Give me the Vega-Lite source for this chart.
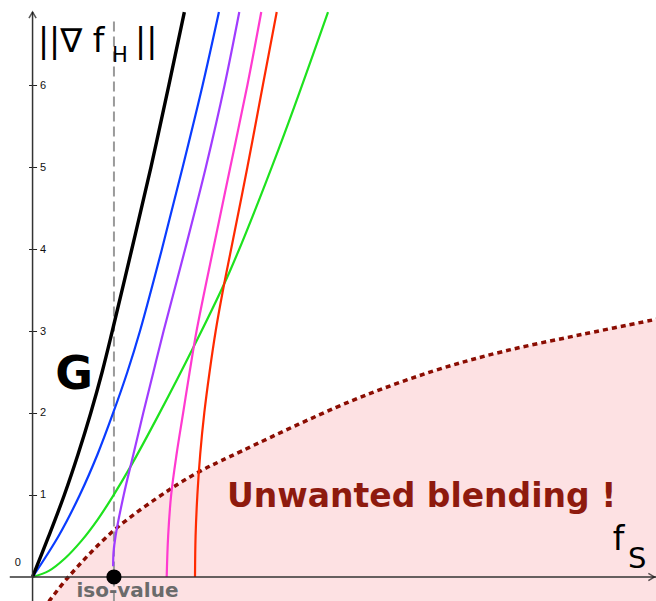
{
  "$schema": "https://vega.github.io/schema/vega-lite/v6.json",
  "width": 656,
  "height": 601,
  "padding": 0,
  "autosize": {"type": "none"},
  "background": "white",
  "config": {"view": {"stroke": null}, "axis": {"grid": false}},
  "datasets": {
    "boundary": [
      {"x": 0.2, "y": -0.3}, {"x": 0.44, "y": 0}, {"x": 0.99, "y": 0.56}, {"x": 1.69, "y": 1.07},
      {"x": 2.06, "y": 1.29}, {"x": 2.43, "y": 1.47}, {"x": 3.9, "y": 2.14}, {"x": 4.92, "y": 2.51},
      {"x": 5.78, "y": 2.75}, {"x": 6.76, "y": 2.96}, {"x": 7.7, "y": 3.15}
    ],
    "curves": [
      {"series": "black", "x": 0, "y": 0}, {"series": "black", "x": 0.2, "y": 0.5}, {"series": "black", "x": 0.39, "y": 1},
      {"series": "black", "x": 0.56, "y": 1.5}, {"series": "black", "x": 0.715, "y": 2}, {"series": "black", "x": 0.855, "y": 2.5},
      {"series": "black", "x": 0.98, "y": 3}, {"series": "black", "x": 1.22, "y": 4}, {"series": "black", "x": 1.455, "y": 5},
      {"series": "black", "x": 1.675, "y": 6}, {"series": "black", "x": 1.865, "y": 6.89},
      {"series": "blue", "x": 0, "y": 0}, {"series": "blue", "x": 0.32, "y": 0.5}, {"series": "blue", "x": 0.58, "y": 1},
      {"series": "blue", "x": 0.8, "y": 1.5}, {"series": "blue", "x": 0.99, "y": 2}, {"series": "blue", "x": 1.165, "y": 2.5},
      {"series": "blue", "x": 1.32, "y": 3}, {"series": "blue", "x": 1.59, "y": 4}, {"series": "blue", "x": 1.845, "y": 5},
      {"series": "blue", "x": 2.09, "y": 6}, {"series": "blue", "x": 2.29, "y": 6.89},
      {"series": "green", "x": 0, "y": 0}, {"series": "green", "x": 0.2, "y": 0.074}, {"series": "green", "x": 0.4, "y": 0.228},
      {"series": "green", "x": 0.6, "y": 0.44}, {"series": "green", "x": 0.8, "y": 0.7}, {"series": "green", "x": 0.99, "y": 0.99},
      {"series": "green", "x": 1.2, "y": 1.34}, {"series": "green", "x": 1.55, "y": 1.98}, {"series": "green", "x": 1.97, "y": 2.79},
      {"series": "green", "x": 2.42, "y": 3.72}, {"series": "green", "x": 3.02, "y": 5.21}, {"series": "green", "x": 3.63, "y": 6.89},
      {"series": "purple", "x": 0.99, "y": 0.13}, {"series": "purple", "x": 0.995, "y": 0.3}, {"series": "purple", "x": 1.02, "y": 0.5},
      {"series": "purple", "x": 1.12, "y": 1}, {"series": "purple", "x": 1.24, "y": 1.5}, {"series": "purple", "x": 1.36, "y": 2},
      {"series": "purple", "x": 1.485, "y": 2.5}, {"series": "purple", "x": 1.61, "y": 3}, {"series": "purple", "x": 1.875, "y": 4},
      {"series": "purple", "x": 2.13, "y": 5}, {"series": "purple", "x": 2.36, "y": 6}, {"series": "purple", "x": 2.54, "y": 6.89},
      {"series": "pink", "x": 1.648, "y": 0}, {"series": "pink", "x": 1.666, "y": 0.5}, {"series": "pink", "x": 1.703, "y": 1},
      {"series": "pink", "x": 1.77, "y": 1.5}, {"series": "pink", "x": 1.85, "y": 2}, {"series": "pink", "x": 1.93, "y": 2.5},
      {"series": "pink", "x": 2.015, "y": 3}, {"series": "pink", "x": 2.22, "y": 4}, {"series": "pink", "x": 2.43, "y": 5},
      {"series": "pink", "x": 2.64, "y": 6}, {"series": "pink", "x": 2.81, "y": 6.89},
      {"series": "red", "x": 1.996, "y": 0}, {"series": "red", "x": 2.003, "y": 0.5}, {"series": "red", "x": 2.025, "y": 1},
      {"series": "red", "x": 2.06, "y": 1.5}, {"series": "red", "x": 2.11, "y": 2}, {"series": "red", "x": 2.175, "y": 2.5},
      {"series": "red", "x": 2.25, "y": 3}, {"series": "red", "x": 2.34, "y": 3.5}, {"series": "red", "x": 2.44, "y": 4},
      {"series": "red", "x": 2.64, "y": 5}, {"series": "red", "x": 2.83, "y": 6}, {"series": "red", "x": 3.0, "y": 6.89}
    ]
  },
  "encoding": {
    "x": {"field": "x", "type": "quantitative", "scale": {"domain": [-0.4, 7.66], "nice": false, "zero": false}, "axis": null},
    "y": {"field": "y", "type": "quantitative", "scale": {"domain": [-0.293, 7.037], "nice": false, "zero": false}, "axis": null}
  },
  "layer": [
    {
      "data": {"name": "boundary"},
      "mark": {"type": "area", "color": "#fde1e3", "clip": true, "interpolate": "catmull-rom"},
      "encoding": {
        "x": {"field": "x", "type": "quantitative", "scale": {"domain": [-0.4, 7.66], "nice": false, "zero": false},
          "axis": {"orient": "top", "offset": -577, "values": [1, 2, 3, 4, 5, 6, 7], "domain": false, "tickSize": 4, "tickColor": "#222", "tickWidth": 1, "labelFont": "Liberation Sans", "labelFontSize": 11, "labelColor": "#111", "labelPadding": 4, "title": null}},
        "y": {"field": "y", "type": "quantitative", "scale": {"domain": [-0.293, 7.037], "nice": false, "zero": false},
          "axis": {"orient": "right", "offset": -623.44, "values": [1, 2, 3, 4, 5, 6], "domain": false, "tickSize": 4, "tickColor": "#222", "tickWidth": 1, "labelFont": "Liberation Sans", "labelFontSize": 11, "labelColor": "#111", "labelPadding": 3, "title": null}},
        "y2": {"datum": -0.3}
      }
    },
    {
      "data": {"name": "boundary"},
      "mark": {"type": "line", "color": "#8b0d02", "strokeWidth": 3.5, "strokeDash": [5, 4], "clip": true, "interpolate": "catmull-rom"},
      "encoding": {}
    },
    {
      "data": {"values": [{"x": 1, "y": -0.3, "y2": 6.8}]},
      "mark": {"type": "rule", "color": "#9a9a9a", "strokeWidth": 2, "strokeDash": [10, 5]},
      "encoding": {"y2": {"field": "y2"}}
    },
    {
      "data": {"name": "curves"},
      "transform": [{"filter": "datum.series !== 'black'"}],
      "mark": {"type": "line", "strokeWidth": 2.2, "interpolate": "catmull-rom", "clip": true},
      "encoding": {
        "color": {"field": "series", "type": "nominal", "legend": null,
          "scale": {"domain": ["green", "blue", "purple", "pink", "red"], "range": ["#1ee21e", "#0a3cff", "#a03cff", "#ff3ad0", "#ff2a00"]}},
        "order": {"field": "y", "type": "quantitative"}
      }
    },
    {
      "data": {"name": "curves"},
      "transform": [{"filter": "datum.series === 'black'"}],
      "mark": {"type": "line", "strokeWidth": 3.4, "color": "#000000", "interpolate": "catmull-rom", "clip": true},
      "encoding": {"order": {"field": "y", "type": "quantitative"}}
    },
    {
      "data": {"values": [{"x": -0.28, "y": 0, "x2": 7.66, "y2": 0}, {"x": 0, "y": -0.3, "x2": 0, "y2": 6.89}]},
      "mark": {"type": "rule", "color": "#333333", "strokeWidth": 1.5},
      "encoding": {
        "x": {"field": "x", "type": "quantitative", "scale": {"domain": [-0.4, 7.66], "nice": false, "zero": false},
          "axis": {"orient": "bottom", "offset": -24, "values": [1, 2, 3, 4, 5, 6, 7], "domain": false, "labels": false, "tickSize": 4, "tickColor": "#222", "tickWidth": 1, "title": null}},
        "y": {"field": "y", "type": "quantitative", "scale": {"domain": [-0.293, 7.037], "nice": false, "zero": false},
          "axis": {"orient": "left", "offset": -32.56, "values": [1, 2, 3, 4, 5, 6], "domain": false, "labels": false, "tickSize": 4, "tickColor": "#222", "tickWidth": 1, "title": null}},
        "x2": {"field": "x2"},
        "y2": {"field": "y2"}
      }
    },
    {
      "data": {"values": [{"x": 0, "y": 6.89}]},
      "mark": {"type": "point", "shape": "M-0.6,1L0,0L0.6,1", "size": 144, "filled": false, "stroke": "#111", "strokeWidth": 1.5},
      "encoding": {}
    },
    {
      "data": {"values": [{"x": 7.64, "y": 0}]},
      "mark": {"type": "point", "shape": "M-1,-0.6L0,0L-1,0.6", "size": 144, "filled": false, "stroke": "#111", "strokeWidth": 1.5},
      "encoding": {}
    },
    {
      "data": {"values": [{"x": 1, "y": 0}]},
      "mark": {"type": "point", "shape": "circle", "size": 230, "filled": true, "color": "#000000", "opacity": 1},
      "encoding": {}
    },
    {
      "data": {"values": [{"x": -0.18, "y": 0.13, "label": "0"}]},
      "mark": {"type": "text", "font": "Liberation Sans", "fontSize": 11, "color": "#111", "align": "center", "baseline": "alphabetic"},
      "encoding": {"text": {"field": "label"}}
    },
    {
      "data": {"values": [{"x": 0.066, "y": 6.4, "label": "||∇ f"}, {"x": 1.26, "y": 6.4, "label": "||"}, {"x": 7.13, "y": 0.33, "label": "f"}]},
      "mark": {"type": "text", "font": "DejaVu Sans", "fontSize": 33, "color": "#000", "align": "left", "baseline": "alphabetic"},
      "encoding": {"text": {"field": "label"}}
    },
    {
      "data": {"values": [{"x": 0.975, "y": 6.28, "label": "H"}]},
      "mark": {"type": "text", "font": "DejaVu Sans", "fontSize": 21, "color": "#000", "align": "left", "baseline": "alphabetic"},
      "encoding": {"text": {"field": "label"}}
    },
    {
      "data": {"values": [{"x": 7.316, "y": 0.11, "label": "S"}]},
      "mark": {"type": "text", "font": "DejaVu Sans", "fontSize": 29, "color": "#000", "align": "left", "baseline": "alphabetic"},
      "encoding": {"text": {"field": "label"}}
    },
    {
      "data": {"values": [{"x": 0.51, "y": 2.29, "label": "G"}]},
      "mark": {"type": "text", "font": "DejaVu Sans", "fontWeight": "bold", "fontSize": 46, "color": "#000", "align": "center", "baseline": "alphabetic"},
      "encoding": {"text": {"field": "label"}}
    },
    {
      "data": {"values": [{"x": 4.78, "y": 0.854, "label": "Unwanted blending !"}]},
      "mark": {"type": "text", "font": "DejaVu Sans", "fontWeight": "bold", "fontSize": 33, "color": "#8e1a0e", "align": "center", "baseline": "alphabetic"},
      "encoding": {"text": {"field": "label"}}
    },
    {
      "data": {"values": [{"x": 1.166, "y": -0.244, "label": "iso-value"}]},
      "mark": {"type": "text", "font": "DejaVu Sans", "fontWeight": "bold", "fontSize": 20, "color": "#6b6b6b", "align": "center", "baseline": "alphabetic"},
      "encoding": {"text": {"field": "label"}}
    }
  ],
  "resolve": {"axis": {"x": "independent", "y": "independent"}}
}
